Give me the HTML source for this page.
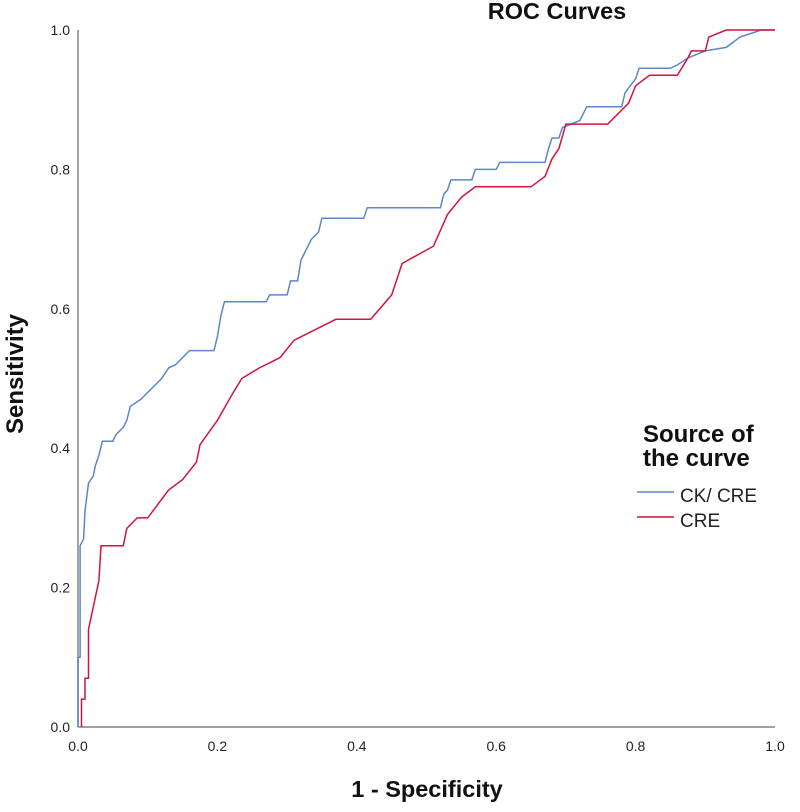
<!DOCTYPE html>
<html><head><meta charset="utf-8"><style>
body{margin:0;background:#fff;}
svg{display:block;font-family:"Liberation Sans",sans-serif;}
</style></head><body>
<svg id="chart" width="800" height="812" viewBox="0 0 800 812" xmlns="http://www.w3.org/2000/svg">
<rect width="800" height="812" fill="#fff"/>
<text x="557" y="19" font-size="23.5" font-weight="bold" text-anchor="middle" fill="#111">ROC Curves</text>
<g id="axes"></g>
<g id="series"></g>
<text transform="translate(23,374) rotate(-90)" font-size="24" font-weight="bold" text-anchor="middle" fill="#111">Sensitivity</text>
<text x="427" y="797" font-size="23.5" font-weight="bold" text-anchor="middle" fill="#111">1 - Specificity</text>
<g>
<text x="643" y="442" font-size="24" font-weight="bold" fill="#111">Source of</text>
<text x="643" y="466" font-size="24" font-weight="bold" fill="#111">the curve</text>
<line x1="637" y1="492" x2="674" y2="492" stroke="#5b86c9" stroke-width="1.5"/>
<text x="680" y="502" font-size="19" fill="#222">CK/ CRE</text>
<line x1="637" y1="517" x2="674" y2="517" stroke="#d2143c" stroke-width="1.5"/>
<text x="680" y="527" font-size="19" fill="#222">CRE</text>
</g>
</svg>
<script>
const ticks = [0, 0.2, 0.4, 0.6, 0.8, 1.0];
const tickLabels = ["0.0","0.2","0.4","0.6","0.8","1.0"];
const ckcreFpr = [0,0,0.003,0.003,0.008,0.01,0.015,0.022,0.025,0.03,0.035,0.05,0.055,0.065,0.07,0.075,0.09,0.1,0.11,0.12,0.13,0.14,0.15,0.16,0.195,0.2,0.205,0.21,0.27,0.275,0.3,0.305,0.315,0.32,0.33,0.335,0.345,0.35,0.41,0.415,0.52,0.525,0.53,0.535,0.565,0.57,0.6,0.605,0.67,0.675,0.68,0.69,0.695,0.72,0.73,0.78,0.785,0.8,0.805,0.85,0.86,0.875,0.9,0.93,0.95,0.98,1];
const ckcreTpr = [0,0.1,0.1,0.26,0.27,0.31,0.35,0.36,0.375,0.39,0.41,0.41,0.42,0.43,0.44,0.46,0.47,0.48,0.49,0.5,0.515,0.52,0.53,0.54,0.54,0.56,0.59,0.61,0.61,0.62,0.62,0.64,0.64,0.67,0.69,0.7,0.71,0.73,0.73,0.745,0.745,0.765,0.77,0.785,0.785,0.8,0.8,0.81,0.81,0.83,0.845,0.845,0.86,0.87,0.89,0.89,0.91,0.93,0.945,0.945,0.95,0.96,0.97,0.975,0.99,1,1];
const creFpr = [0.005,0.005,0.01,0.01,0.015,0.015,0.03,0.033,0.065,0.07,0.085,0.1,0.13,0.15,0.17,0.175,0.2,0.22,0.235,0.26,0.29,0.31,0.37,0.42,0.45,0.465,0.51,0.53,0.55,0.57,0.65,0.67,0.68,0.69,0.7,0.76,0.79,0.8,0.82,0.86,0.875,0.88,0.9,0.905,0.93,1];
const creTpr = [0,0.04,0.04,0.07,0.07,0.14,0.21,0.26,0.26,0.285,0.3,0.3,0.34,0.355,0.38,0.405,0.44,0.475,0.5,0.515,0.53,0.555,0.585,0.585,0.62,0.665,0.69,0.735,0.76,0.775,0.775,0.79,0.815,0.83,0.865,0.865,0.895,0.92,0.935,0.935,0.96,0.97,0.97,0.99,1,1];

const X0=78, X1=775, Y0=727, Y1=30;
const xs = v => X0 + v*(X1-X0);
const ys = v => Y0 - v*(Y0-Y1);
const NS="http://www.w3.org/2000/svg";
const axes=document.getElementById('axes');
function mk(tag, attrs, parent){const e=document.createElementNS(NS,tag);for(const k in attrs)e.setAttribute(k,attrs[k]);parent.appendChild(e);return e;}
const ya=mk('line',{x1:X0,y1:Y1,x2:X0,y2:Y0,stroke:'#8a817c','stroke-width':1.5},axes);


const xa=mk('line',{x1:X0,y1:Y0,x2:X1,y2:Y0,stroke:'#8a817c','stroke-width':1.5},axes);


ticks.forEach((t,i)=>{
  const ty=mk('text',{x:70,y:ys(t)+5,'font-size':14,'text-anchor':'end',fill:'#222'},axes);
  ty.textContent=tickLabels[i];
  
  
  const tx=mk('text',{x:xs(t),y:751,'font-size':14,'text-anchor':'middle',fill:'#222'},axes);
  tx.textContent=tickLabels[i];
  
  
});
const series=document.getElementById('series');
function draw(fx,ty,color,name){
  const pts=fx.map((f,i)=>xs(f).toFixed(1)+','+ys(ty[i]).toFixed(1)).join(' ');
  const p=mk('polyline',{points:pts,fill:'none',stroke:color,'stroke-width':1.5},series);
  
  
}
draw(ckcreFpr,ckcreTpr,'#5b86c9','ckcre-curve');
draw(creFpr,creTpr,'#d2143c','cre-curve');
</script>
</body></html>
